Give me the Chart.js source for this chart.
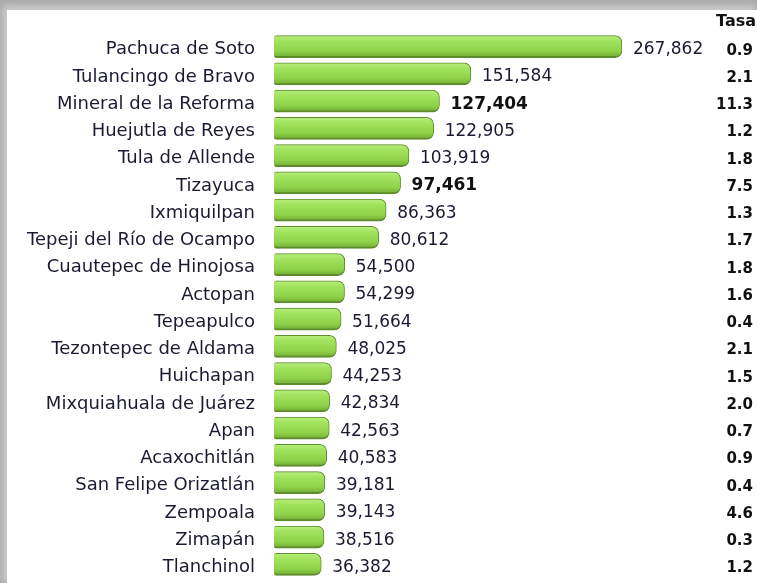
<!DOCTYPE html>
<html>
<head>
<meta charset="utf-8">
<script src="https://cdn.jsdelivr.net/npm/chart.js@4"></script>
<style>
  html, body { margin: 0; padding: 0; }
  body {
    width: 757px; height: 583px; overflow: hidden; position: relative;
    background: #a9a9a9;
  }
  #panel {
    position: absolute; left: 7px; top: 10px; right: 0; bottom: 0;
    background: #fff;
    box-shadow: -3px -3px 6px 2px #c8c8c8;
  }
  #chart { position: absolute; left: 0; top: 0; }
</style>
</head>
<body>
<div id="panel"></div>
<canvas id="chart" width="757" height="583"></canvas>
<script>
// municipios de Hidalgo, poblacion y tasa de crecimiento
const municipios = [
  "Pachuca de Soto", "Tulancingo de Bravo", "Mineral de la Reforma",
  "Huejutla de Reyes", "Tula de Allende", "Tizayuca", "Ixmiquilpan",
  "Tepeji del Río de Ocampo", "Cuautepec de Hinojosa", "Actopan",
  "Tepeapulco", "Tezontepec de Aldama", "Huichapan",
  "Mixquiahuala de Juárez", "Apan", "Acaxochitlán",
  "San Felipe Orizatlán", "Zempoala", "Zimapán", "Tlanchinol"
];
const poblacion = [
  267862, 151584, 127404, 122905, 103919, 97461, 86363, 80612, 54500,
  54299, 51664, 48025, 44253, 42834, 42563, 40583, 39181, 39143, 38516, 36382
];
const tasa = [
  "0.9", "2.1", "11.3", "1.2", "1.8", "7.5", "1.3", "1.7", "1.8", "1.6",
  "0.4", "2.1", "1.5", "2.0", "0.7", "0.9", "0.4", "4.6", "0.3", "1.2"
];
// los que salen en negrita
const destacados = ["Mineral de la Reforma", "Tizayuca"];

const fuente = "'DejaVu Sans', Verdana, sans-serif";
const colorTexto = "#1a1a33";

function barGradient(ctx) {
  const chart = ctx.chart;
  const y = chart.scales.y;
  if (!y || ctx.dataIndex === undefined) return "#8fd24c";
  const cy = y.getPixelForValue(ctx.dataIndex);
  if (!isFinite(cy)) return "#8fd24c";
  const g = chart.ctx.createLinearGradient(0, cy - 11, 0, cy + 11);
  g.addColorStop(0, "#b8ee7e");
  g.addColorStop(0.25, "#a2e35e");
  g.addColorStop(0.7, "#8fd349");
  g.addColorStop(1, "#72aa36");
  return g;
}

// etiquetas de valor y columna Tasa
const etiquetas = {
  id: "etiquetas",
  afterDatasetsDraw(chart) {
    const ctx = chart.ctx;
    const meta = chart.getDatasetMeta(0);
    ctx.save();
    ctx.textBaseline = "middle";
    meta.data.forEach((bar, i) => {
      const bold = destacados.includes(municipios[i]);
      ctx.fillStyle = bold ? "#111" : colorTexto;
      ctx.font = (bold ? "bold " : "") + "17px " + fuente;
      ctx.textAlign = "left";
      ctx.fillText(poblacion[i].toLocaleString("en-US"), bar.x + 11, bar.y + 3);
      ctx.font = "bold 15px " + fuente;
      ctx.textAlign = "right";
      ctx.fillStyle = "#111";
      ctx.fillText(tasa[i], 753, bar.y + 4);
    });
    ctx.font = "bold 16px " + fuente;
    ctx.textAlign = "right";
    ctx.fillText("Tasa", 756, 22);
    ctx.restore();
  }
};

new Chart(document.getElementById("chart"), {
  type: "bar",
  data: {
    labels: municipios,
    datasets: [{
      data: poblacion,
      backgroundColor: barGradient,
      borderColor: "#5e8c2c",
      borderWidth: { top: 1, bottom: 2, right: 1, left: 0 },
      borderSkipped: false,
      borderRadius: { topRight: 7, bottomRight: 7, topLeft: 2, bottomLeft: 2 },
      barThickness: 22
    }]
  },
  options: {
    indexAxis: "y",
    responsive: false,
    animation: false,
    layout: { padding: { top: 33, bottom: 5, right: 5, left: 0 } },
    plugins: { legend: { display: false }, tooltip: { enabled: false } },
    scales: {
      x: { min: 0, max: 368000, display: false },
      y: {
        grid: { display: false },
        border: { display: false },
        ticks: {
          color: colorTexto,
          padding: 11,
          labelOffset: 3,
          autoSkip: false,
          font: { family: fuente, size: 18 }
        },
        afterFit(scale) {
          scale.width = 274;
          scale.paddingTop = 0;
          scale.paddingBottom = 0;
        }
      }
    }
  },
  plugins: [etiquetas]
});
</script>
</body>
</html>
